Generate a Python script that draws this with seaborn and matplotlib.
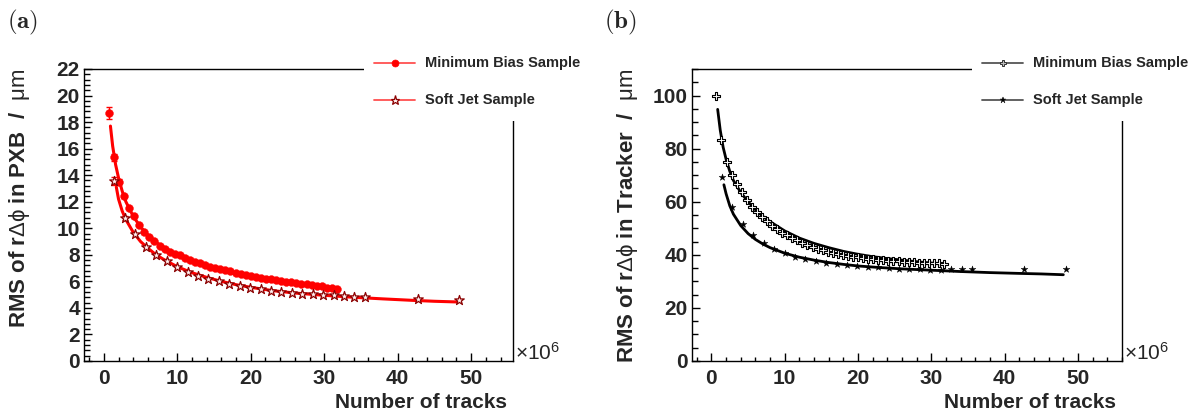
import matplotlib
matplotlib.use("Agg")
import matplotlib.pyplot as plt
import seaborn as sns
from matplotlib.lines import Line2D
from matplotlib.patches import Rectangle
from matplotlib.ticker import MultipleLocator

# ---------------- data (x in units of 10^6 tracks) ----------------
mb_x = [0.68, 1.37, 2.06, 2.75, 3.44, 4.13, 4.82, 5.51, 6.20, 6.89,
        7.58, 8.27, 8.96, 9.65, 10.34, 11.03, 11.72, 12.41, 13.10, 13.79,
        14.48, 15.17, 15.86, 16.55, 17.24, 17.93, 18.62, 19.31, 20.00, 20.69,
        21.38, 22.07, 22.76, 23.45, 24.14, 24.83, 25.52, 26.21, 26.90, 27.59,
        28.28, 28.97, 29.66, 30.35, 31.04, 31.73]
mb_pxb = [18.7, 15.35, 13.5, 12.4, 11.55, 10.9, 10.25, 9.75, 9.35, 9.05,
          8.7, 8.45, 8.2, 8.08, 7.95, 7.75, 7.6, 7.45, 7.35, 7.2,
          7.1, 7.0, 6.92, 6.82, 6.75, 6.65, 6.57, 6.5, 6.42, 6.35,
          6.28, 6.2, 6.15, 6.08, 6.02, 5.97, 5.92, 5.86, 5.82, 5.77,
          5.72, 5.68, 5.62, 5.5, 5.48, 5.46]
mb_pxb_err = [0.45, 0.25, 0.18, 0.14]
mb_trk = [99.9, 83.1, 75.1, 70.2, 66.7, 63.7, 60.8, 58.2, 56.0, 54.3,
          52.7, 51.0, 49.7, 48.4, 47.3, 46.5, 45.5, 44.6, 43.7, 43.1,
          42.3, 41.8, 41.2, 40.7, 40.3, 39.9, 39.6, 39.3, 39.0, 38.8,
          38.6, 38.4, 38.2, 38.0, 37.8, 37.6, 37.5, 37.4, 37.3, 37.2,
          37.1, 37.0, 36.9, 36.9, 36.8, 36.7]

sj_x = [1.45, 2.87, 4.29, 5.71, 7.13, 8.55, 9.97, 11.39, 12.81, 14.23,
        15.65, 17.07, 18.49, 19.91, 21.33, 22.75, 24.17, 25.59, 27.01, 28.43,
        29.85, 31.27, 32.69, 34.11, 35.53, 42.7, 48.4]
sj_pxb = [13.54, 10.75, 9.54, 8.59, 7.99, 7.53, 7.10, 6.72, 6.39, 6.19,
          5.99, 5.81, 5.66, 5.51, 5.41, 5.31, 5.23, 5.16, 5.08, 5.03,
          4.98, 4.96, 4.88, 4.83, 4.81, 4.68, 4.61]
sj_pxb_err = [0.3, 0.15]
sj_trk = [69.3, 58.1, 51.7, 47.5, 44.5, 42.3, 40.6, 39.3, 38.3, 37.7,
          37.0, 36.5, 36.1, 35.8, 35.5, 35.3, 35.0, 34.8, 34.6, 34.5,
          34.4, 34.4, 34.5, 34.5, 34.5, 34.6, 34.6]

# fitted curves
fit_mb_pxb_x = [0.9, 1.2, 1.6, 2.0, 2.5, 3.0, 4.0, 5.0, 6.0, 7.0, 8.0, 10.0,
                12.0, 14.0, 16.0, 18.0, 20.0, 22.0, 24.0, 26.0, 28.0, 30.0, 32.0]
fit_mb_pxb_y = [17.7, 16.2, 14.8, 13.8, 12.8, 12.0, 10.9, 10.1, 9.5, 9.0, 8.6, 8.0,
                7.5, 7.1, 6.8, 6.55, 6.35, 6.15, 6.0, 5.85, 5.7, 5.6, 5.45]
fit_sj_pxb_x = [1.7, 2.0, 2.5, 3.0, 4.0, 5.0, 6.0, 7.0, 8.0, 10.0, 12.0, 14.0,
                16.0, 18.0, 20.0, 23.0, 26.0, 30.0, 34.0, 38.0, 42.0, 45.0, 48.0]
fit_sj_pxb_y = [13.1, 12.2, 11.3, 10.65, 9.7, 9.0, 8.5, 8.05, 7.7, 7.1, 6.65, 6.3,
                6.0, 5.75, 5.55, 5.3, 5.12, 4.95, 4.8, 4.68, 4.57, 4.5, 4.45]
fit_mb_trk_x = [0.85, 1.2, 1.6, 2.0, 2.5, 3.0, 4.0, 5.0, 6.0, 7.0, 8.0, 10.0,
                12.0, 14.0, 16.0, 18.0, 20.0, 22.0, 24.0, 26.0, 28.0, 30.0, 32.0]
fit_mb_trk_y = [94.8, 87.0, 80.5, 76.0, 71.5, 68.0, 63.5, 60.0, 57.0, 54.5, 52.5, 49.0,
                46.3, 44.3, 42.7, 41.3, 40.2, 39.3, 38.6, 38.0, 37.4, 36.9, 36.4]
fit_sj_trk_x = [1.7, 2.0, 2.5, 3.0, 4.0, 5.0, 6.0, 7.0, 8.0, 10.0, 12.0, 14.0,
                16.0, 18.0, 20.0, 23.0, 26.0, 30.0, 34.0, 38.0, 42.0, 45.0, 48.0]
fit_sj_trk_y = [66.4, 63.0, 58.5, 55.3, 51.0, 48.0, 45.8, 44.1, 42.7, 40.6, 39.1, 38.0,
                37.1, 36.4, 35.8, 35.2, 34.7, 34.2, 33.7, 33.3, 33.0, 32.8, 32.5]

legend_labels = ["Minimum Bias Sample", "Soft Jet Sample"]
xlabel = "Number of tracks"
ylabel_a = r"RMS of r$\mathrm{\Delta\phi}$ in PXB  /  $\mathrm{\mu m}$"
ylabel_b = r"RMS of r$\mathrm{\Delta\phi}$ in Tracker  /  $\mathrm{\mu m}$"

# ---------------- style ----------------
sns.set_style("ticks")
plt.rcParams.update({
    "font.family": ["Liberation Sans", "DejaVu Sans"],
    "font.weight": "bold",
    "mathtext.fontset": "custom",
    "mathtext.rm": "Liberation Sans:weight=normal",
    "mathtext.it": "Liberation Sans:italic:weight=normal",
    "mathtext.bf": "Liberation Sans:bold",
    "axes.edgecolor": "black",
    "axes.linewidth": 1.0,
})

W, H = 1201, 418
fig = plt.figure(figsize=(W / 100, H / 100), dpi=100)
fig.patch.set_facecolor("white")


def rect(l, r, t, b):
    return [l / W, 1 - b / H, (r - l) / W, (b - t) / H]


def fx(px):
    return px / W


def fy(py):
    return 1 - py / H


axA = fig.add_axes(rect(84, 513, 69, 361))
axB = fig.add_axes(rect(692, 1122, 69, 361))

RED = "#ff0000"
DARKRED = "#8b0000"

# panel (a)
sns.lineplot(x=fit_mb_pxb_x, y=fit_mb_pxb_y, ax=axA, color=RED, linewidth=2.2,
             sort=False, estimator=None, zorder=2)
sns.lineplot(x=fit_sj_pxb_x, y=fit_sj_pxb_y, ax=axA, color=RED, linewidth=2.2,
             sort=False, estimator=None, zorder=2)
axA.errorbar(mb_x[:len(mb_pxb_err)], mb_pxb[:len(mb_pxb_err)], yerr=mb_pxb_err,
             fmt="none", ecolor=RED, elinewidth=1.0, capsize=2, zorder=3)
axA.errorbar(sj_x[:len(sj_pxb_err)], sj_pxb[:len(sj_pxb_err)], yerr=sj_pxb_err,
             fmt="none", ecolor=RED, elinewidth=1.0, capsize=2, zorder=3)
sns.scatterplot(x=mb_x, y=mb_pxb, ax=axA, color=RED, marker="o", s=32,
                edgecolor=RED, linewidth=0.3, zorder=4)
sns.scatterplot(x=sj_x, y=sj_pxb, ax=axA, marker="*", s=52, facecolor="#fff0f0",
                edgecolor=DARKRED, linewidth=0.9, zorder=4)

# panel (b)
sns.lineplot(x=fit_mb_trk_x, y=fit_mb_trk_y, ax=axB, color="black", linewidth=2.0,
             sort=False, estimator=None, zorder=2)
sns.lineplot(x=fit_sj_trk_x, y=fit_sj_trk_y, ax=axB, color="black", linewidth=2.0,
             sort=False, estimator=None, zorder=2)
sns.scatterplot(x=mb_x, y=mb_trk, ax=axB, marker="P", s=32, facecolor="white",
                edgecolor="black", linewidth=0.8, zorder=4)
sns.scatterplot(x=sj_x, y=sj_trk, ax=axB, marker="*", s=26, color="black",
                edgecolor="black", linewidth=0.3, zorder=4)


def style(ax, xlim, ylim, ymaj, ymin):
    ax.set_xlim(*xlim)
    ax.set_ylim(*ylim)
    ax.xaxis.set_major_locator(MultipleLocator(10))
    ax.xaxis.set_minor_locator(MultipleLocator(2))
    ax.yaxis.set_major_locator(MultipleLocator(ymaj))
    ax.yaxis.set_minor_locator(MultipleLocator(ymin))
    ax.tick_params(which="both", direction="in", top=False, right=False,
                   width=1.0, color="black")
    ax.tick_params(axis="x", which="major", length=6, labelsize=15, pad=6)
    ax.tick_params(axis="x", which="minor", length=3)
    ax.tick_params(axis="y", which="major", length=6, labelsize=15, pad=3)
    ax.tick_params(axis="y", which="minor", length=4)
    for lab in ax.get_xticklabels() + ax.get_yticklabels():
        lab.set_fontweight("bold")
    for s in ax.spines.values():
        s.set_visible(True)
        s.set_linewidth(1.0)
        s.set_color("black")
    ax.set_xlabel("")
    ax.set_ylabel("")
    ax.set_facecolor("white")


style(axA, (-2.7, 55.7), (0, 22), 2, 0.4)
style(axB, (-2.65, 56.0), (0, 110), 20, 5)

# white legend boxes covering the frame corner (as in the original)
fig.add_artist(Rectangle((fx(364), fy(121)), fx(600 - 364), 121 / H,
                         transform=fig.transFigure, facecolor="white",
                         edgecolor="none", zorder=5))
fig.add_artist(Rectangle((fx(972), fy(121)), fx(1201 - 972), 121 / H,
                         transform=fig.transFigure, facecolor="white",
                         edgecolor="none", zorder=5))


def legend_entry(x0, y, label, lcolor, marker, msize, mfc, mec, mew):
    fig.add_artist(Line2D([fx(x0), fx(x0 + 41)], [fy(y), fy(y)],
                          transform=fig.transFigure, color=lcolor,
                          linewidth=1.3, zorder=6))
    fig.add_artist(Line2D([fx(x0 + 20.5)], [fy(y)], transform=fig.transFigure,
                          linestyle="none", marker=marker, markersize=msize,
                          markerfacecolor=mfc, markeredgecolor=mec,
                          markeredgewidth=mew, zorder=7))
    fig.text(fx(x0 + 51), fy(y), label, ha="left", va="center",
             fontsize=10.5, fontweight="bold", zorder=7)


legend_entry(374, 63, legend_labels[0], "#ff5050", "o", 5, RED, RED, 0.5)
legend_entry(374, 100, legend_labels[1], "#ff5050", "*", 6.5, "#fff0f0", DARKRED, 0.9)
legend_entry(982, 63, legend_labels[0], "#555555", "P", 5, "#bbbbbb", "#333333", 0.7)
legend_entry(982, 100, legend_labels[1], "#555555", "*", 4.5, "black", "black", 0.3)

# axis titles
for xr, yl, ylab in [(507, 20, ylabel_a), (1116, 627, ylabel_b)]:
    fig.text(fx(xr), fy(402), xlabel, ha="right", va="center",
             fontsize=15, fontweight="bold")
    fig.text(fx(yl), fy(69), ylab, ha="center", va="top", rotation=90,
             fontsize=16, fontweight="bold")

# exponent labels
fig.text(fx(515), fy(353), r"$\times\mathrm{10^{6}}$", ha="left", va="center",
         fontsize=15, fontweight="normal")
fig.text(fx(1124), fy(353), r"$\times\mathrm{10^{6}}$", ha="left", va="center",
         fontsize=15, fontweight="normal")

# panel labels
fig.text(fx(7), fy(22), r"$\mathbf{(a)}$", ha="left", va="center",
         fontsize=18, math_fontfamily="cm")
fig.text(fx(604), fy(22), r"$\mathbf{(b)}$", ha="left", va="center",
         fontsize=18, math_fontfamily="cm")

fig.savefig("out.png", dpi=100, facecolor="white")
